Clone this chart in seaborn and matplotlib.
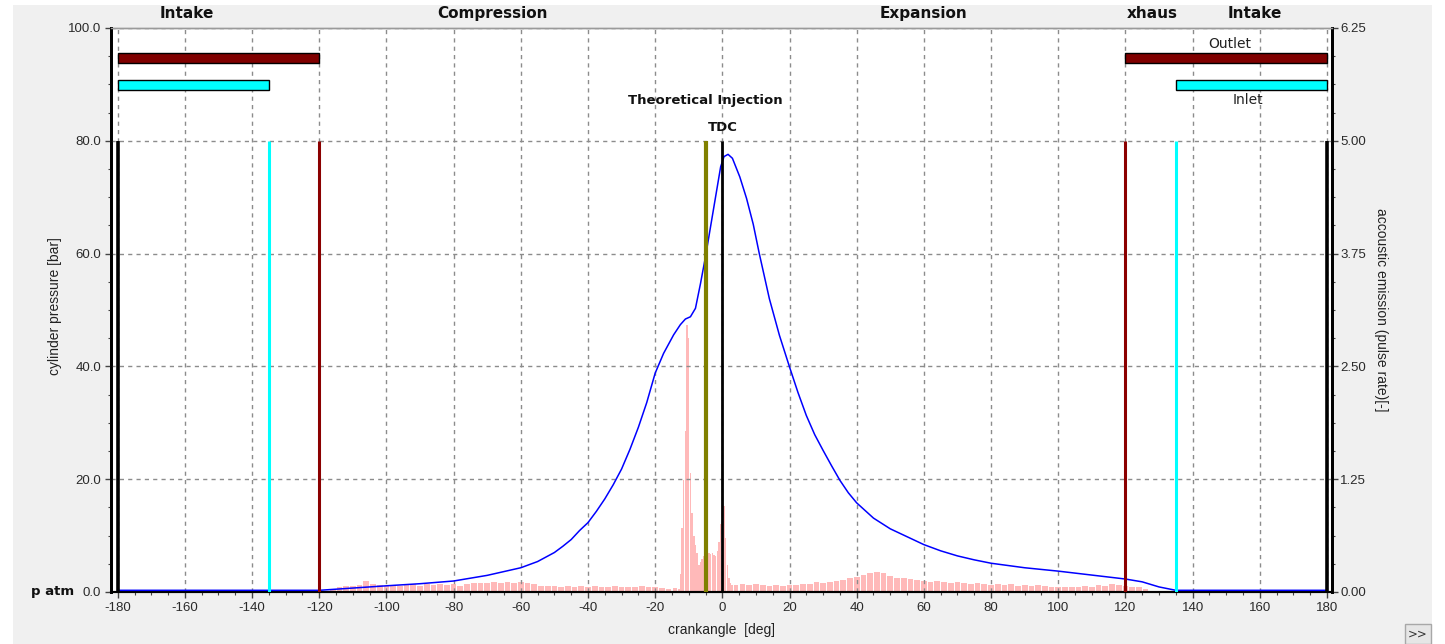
import numpy as np
import matplotlib
matplotlib.use("Agg")
import matplotlib.pyplot as plt
import matplotlib.transforms as mtransforms
from matplotlib.patches import Rectangle
from matplotlib.ticker import MultipleLocator, FormatStrFormatter
import seaborn as sns

# ---- cylinder pressure trace [bar] over crank angle [deg] ----
crank_angle = [-180, -150, -125, -120, -115, -110, -100, -90, -80, -70,
               -60, -55, -50, -47.5, -45, -42.5, -40, -37.5, -35, -32.5,
               -30, -27.5, -25, -22.5, -20, -17.5, -14.5, -12.5, -11, -9.5,
               -8, -6.5, -5, -3.5, -2, -0.5, 0.5, 1.7, 3, 5.2,
               7.2, 9.2, 11, 14, 17, 20, 22.5, 25, 27.5, 30,
               32.5, 35, 37.5, 40, 45, 50, 55, 60, 65, 70,
               75, 80, 90, 100, 110, 120, 125, 130, 135, 180]
cylinder_pressure = [0.3, 0.3, 0.3, 0.3, 0.5, 0.7, 1.1, 1.47, 1.95, 2.95,
                     4.3, 5.4, 7.0, 8.1, 9.3, 10.9, 12.3, 14.3, 16.5, 19.0,
                     21.8, 25.3, 29.2, 33.6, 38.8, 42.3, 45.6, 47.4, 48.4, 48.8,
                     50.3, 54.7, 59.5, 64.8, 70.1, 75.4, 77.2, 77.6, 76.9, 73.6,
                     69.8, 65.2, 60.0, 52.0, 45.5, 39.9, 35.4, 31.3, 27.9, 25.1,
                     22.4, 19.8, 17.6, 15.8, 13.1, 11.2, 9.8, 8.4, 7.3, 6.4,
                     5.7, 5.1, 4.3, 3.7, 3.0, 2.3, 1.8, 0.9, 0.3, 0.3]

# ---- acoustic emission pulse rate [-] ----
ae_angle = [-116, -114, -112, -110, -108, -106, -104, -102, -100, -98,
            -96, -94, -92, -90, -88, -86, -84, -82, -80, -78,
            -76, -74, -72, -70, -68, -66, -64, -62, -60, -58,
            -56, -54, -52, -50, -48, -46, -44, -42, -40, -38,
            -36, -34, -32, -30, -28, -26, -24, -22, -20, -18,
            -16, -14, -13,
            -12.5, -12, -11.5, -11, -10.5, -10, -9.5, -9, -8.5, -8,
            -7.5, -7, -6.5, -6, -5.5, -5, -4.5, -4, -3.5, -3,
            -2.5, -2, -1.5, -1, -0.5, 0, 0.5, 1, 1.5, 2,
            2.5, 3,
            4, 6, 8, 10, 12, 14, 16, 18, 20, 22,
            24, 26, 28, 30, 32, 34, 36, 38, 40, 42,
            44, 46, 48, 50, 52, 54, 56, 58, 60, 62,
            64, 66, 68, 70, 72, 74, 76, 78, 80, 82,
            84, 86, 88, 90, 92, 94, 96, 98, 100, 102,
            104, 106, 108, 110, 112, 114, 116, 118, 120, 122,
            124, 126]
ae_rate = [0.03, 0.05, 0.07, 0.07, 0.08, 0.12, 0.09, 0.08, 0.07, 0.08,
           0.07, 0.08, 0.09, 0.07, 0.09, 0.08, 0.09, 0.08, 0.09, 0.07,
           0.09, 0.10, 0.10, 0.10, 0.11, 0.10, 0.11, 0.10, 0.11, 0.10,
           0.09, 0.07, 0.07, 0.07, 0.06, 0.07, 0.06, 0.07, 0.06, 0.07,
           0.06, 0.05, 0.07, 0.05, 0.06, 0.05, 0.07, 0.06, 0.05, 0.04,
           0.03, 0.04, 0.03,
           0.20, 0.71, 1.24, 1.78, 2.96, 2.81, 1.32, 0.87, 0.62, 0.52,
           0.43, 0.30, 0.33, 0.37, 0.40, 0.44, 0.45, 0.43, 0.42, 0.43,
           0.41, 0.40, 0.45, 0.55, 0.75, 1.10, 0.95, 0.60, 0.30, 0.15,
           0.10, 0.08,
           0.08, 0.09, 0.08, 0.09, 0.08, 0.07, 0.08, 0.07, 0.08, 0.08,
           0.09, 0.09, 0.11, 0.10, 0.11, 0.12, 0.13, 0.15, 0.17, 0.19,
           0.21, 0.22, 0.21, 0.18, 0.16, 0.15, 0.14, 0.13, 0.12, 0.11,
           0.12, 0.11, 0.10, 0.11, 0.10, 0.09, 0.10, 0.09, 0.08, 0.09,
           0.08, 0.09, 0.07, 0.08, 0.07, 0.08, 0.07, 0.06, 0.06, 0.05,
           0.06, 0.05, 0.07, 0.06, 0.08, 0.07, 0.09, 0.08, 0.07, 0.06,
           0.05, 0.03]

# ---- valve timing and events [deg] ----
outlet_open = [(-180, -120), (120, 180)]
inlet_open = [(-180, -135), (135, 180)]
cycle_limits = [-180, 180]
inlet_events = [-135, 135]
outlet_events = [-120, 120]
injection_angle = -5
tdc_angle = 0

phase_names = ["Intake", "Compression", "Expansion", "xhaus", "Intake"]
phase_centres = [-159.5, -68.5, 60, 128, 158.5]

sns.set_theme(style="white")
plt.rcParams["font.family"] = ["Liberation Sans", "DejaVu Sans"]
plt.rcParams["axes.unicode_minus"] = False

W, H = 1445, 644
fig = plt.figure(figsize=(W / 100, H / 100), dpi=100)
fig.patch.set_facecolor("white")
fig.patches.append(Rectangle((13 / W, 0), (1432 - 13) / W, (H - 5) / H,
                             transform=fig.transFigure, facecolor="#f0f0f0",
                             edgecolor="none", zorder=-10))

left, right, top, bottom = 111, 1332, 28, 592
ax = fig.add_axes([left / W, 1 - bottom / H, (right - left) / W, (bottom - top) / H])
ax2 = ax.twinx()
ax.set_zorder(ax2.get_zorder() + 1)
ax.patch.set_visible(False)
ax2.patch.set_visible(True)
ax2.patch.set_facecolor("white")

# acoustic emission bars on the secondary axis
widths = np.gradient(np.array(ae_angle, dtype=float)) * 0.85
ax2.bar(ae_angle, ae_rate, width=widths, color="#ffb9b9", linewidth=0, zorder=2)

# pressure trace
sns.lineplot(x=crank_angle, y=cylinder_pressure, ax=ax, color="#0000ff",
             linewidth=1.1, estimator=None, sort=False, zorder=5)

# valve opening bars
for s, e in outlet_open:
    ax.barh(94.7, e - s, left=s, height=1.9, color="#800000",
            edgecolor="black", linewidth=1, zorder=4)
for s, e in inlet_open:
    ax.barh(89.85, e - s, left=s, height=1.7, color="#00ffff",
            edgecolor="black", linewidth=1, zorder=4)

# event markers
ax.vlines(cycle_limits, 0, 80, color="black", linewidth=2.6, zorder=6)
ax.vlines(inlet_events, 0, 80, color="#00ffff", linewidth=2.2, zorder=6)
ax.vlines(outlet_events, 0, 80, color="#8b0000", linewidth=2.2, zorder=6)
ax.vlines([injection_angle], 0, 80, color="#808000", linewidth=3.0, zorder=6)
ax.vlines([tdc_angle], 0, 80, color="black", linewidth=2.0, zorder=7)

bold = dict(family="DejaVu Sans", fontweight="bold", color="#111111")
ax.text(injection_angle, 87.2, "Theoretical Injection", ha="center", va="center",
        fontsize=9.5, zorder=8, **bold)
ax.text(tdc_angle, 82.4, "TDC", ha="center", va="center", fontsize=9.5, zorder=8, **bold)
ax.text(151.1, 97.2, "Outlet", ha="center", va="center", fontsize=10,
        family="DejaVu Sans", color="#222222")
ax.text(156.5, 87.2, "Inlet", ha="center", va="center", fontsize=10,
        family="DejaVu Sans", color="#222222")

xtrans = ax.get_xaxis_transform()
for name, c in zip(phase_names, phase_centres):
    ax.text(c, 1.025, name, transform=xtrans, ha="center", va="center",
            fontsize=11, clip_on=False, **bold)

ytrans = mtransforms.blended_transform_factory(ax.transAxes, ax.transData)
ax.text(-0.0305, 0, "p atm", transform=ytrans, ha="right", va="center",
        fontsize=9.5, clip_on=False, **bold)

# axes limits, ticks, grid
ax.set_xlim(-182, 181.5)
ax.set_ylim(0, 100)
ax2.set_ylim(0, 6.25)
ax.xaxis.set_major_locator(MultipleLocator(20))
ax.xaxis.set_minor_locator(MultipleLocator(5))
ax.yaxis.set_major_locator(MultipleLocator(20))
ax.yaxis.set_minor_locator(MultipleLocator(5))
ax.yaxis.set_major_formatter(FormatStrFormatter("%.1f"))
ax2.yaxis.set_major_locator(MultipleLocator(1.25))
ax2.yaxis.set_minor_locator(MultipleLocator(0.3125))
ax2.yaxis.set_major_formatter(FormatStrFormatter("%.2f"))
ax2.set_xlim(ax.get_xlim())

ax.grid(True, which="major", color="#8c8c8c", linestyle=(0, (3, 3)), linewidth=1)
ax2.grid(False)

tick_col = "#2a2a2a"
ax.tick_params(axis="x", which="major", direction="out", length=4, width=1,
               pad=3, labelsize=9.5, labelcolor=tick_col, color="#444444", bottom=True)
ax.tick_params(axis="x", which="minor", direction="out", length=2.5, width=0.8,
               color="#444444", bottom=True)
ax.tick_params(axis="y", which="major", direction="out", length=4, width=1,
               pad=3, labelsize=9.5, labelcolor=tick_col, color="#444444", left=True)
ax.tick_params(axis="y", which="minor", direction="out", length=2, width=0.8,
               color="#444444", left=True)
ax2.tick_params(axis="y", which="major", direction="out", length=4, width=1,
                pad=2, labelsize=9.5, labelcolor=tick_col, color="#444444", right=True)
ax2.tick_params(axis="y", which="minor", direction="out", length=2, width=0.8,
                color="#444444", right=True)
ax.set_xlabel("")
ax.set_ylabel("")

for a in (ax, ax2):
    for side in ("left", "right", "bottom"):
        a.spines[side].set_color("black")
    a.spines["left"].set_linewidth(2)
    a.spines["right"].set_linewidth(2)
    a.spines["bottom"].set_linewidth(1.5)
    a.spines["top"].set_color("#9a9a9a")
    a.spines["top"].set_linewidth(1)

# axis titles
fig.text(55 / W, 1 - 306 / H, "cylinder pressure [bar]", rotation=90,
         ha="center", va="center", fontsize=10, color="#222222")
fig.text(1381 / W, 1 - 310 / H, "accoustic emission (pulse rate)[-]", rotation=270,
         ha="center", va="center", fontsize=10, color="#222222")
fig.text(722 / W, 1 - 630 / H, "crankangle  [deg]", ha="center", va="center",
         fontsize=10, color="#222222")

# panel toggle button
fig.text(1418 / W, 1 - 634 / H, ">>", ha="center", va="center", fontsize=8.5,
         color="#333333", family="DejaVu Sans",
         bbox=dict(boxstyle="square,pad=0.3", facecolor="#e6e6e6", edgecolor="#a8a8a8"))

fig.savefig("out.png", dpi=100)
